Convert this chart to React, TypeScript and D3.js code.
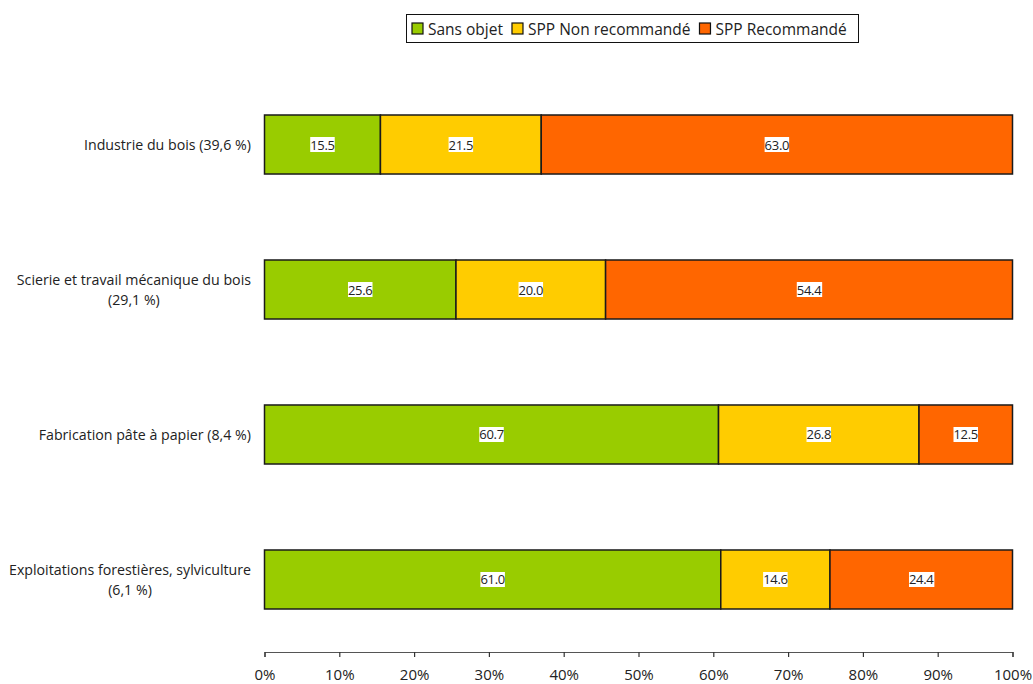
import React, { useEffect, useRef } from "react";
import * as d3 from "d3";

const categories = [
  ["Industrie du bois (39,6 %)"],
  ["Scierie et travail mécanique du bois", "(29,1 %)"],
  ["Fabrication pâte à papier (8,4 %)"],
  ["Exploitations forestières, sylviculture", "(6,1 %)"],
];
const seriesNames = ["Sans objet", "SPP Non recommandé", "SPP Recommandé"];
const seriesColors = ["#99cc00", "#ffcc00", "#ff6600"];
const sansObjet = [15.5, 25.6, 60.7, 61.0];
const nonRecommande = [21.5, 20.0, 26.8, 14.6];
const recommande = [63.0, 54.4, 12.5, 24.4];
const xTicks = [0, 10, 20, 30, 40, 50, 60, 70, 80, 90, 100];

const FONT = "'Open Sans', 'Noto Sans', sans-serif";
const W = 1033;
const H = 684;

export default function App() {
  const ref = useRef<SVGSVGElement>(null);

  useEffect(() => {
    document.body.style.margin = "0";
    const svg = d3.select(ref.current!);
    svg.selectAll("*").remove();

    const keys = categories.map((_, i) => String(i));
    const x = d3.scaleLinear().domain([0, 100]).range([264.5, 1012.5]);
    const y = d3
      .scaleBand<string>()
      .domain(keys)
      .range([115, 609])
      .paddingInner(0.593)
      .paddingOuter(0);

    const rows = keys.map((k, i) => ({
      key: k,
      vals: [sansObjet[i], nonRecommande[i], recommande[i]],
    }));

    // Stacked bars
    const g = svg.append("g");
    rows.forEach((row) => {
      let acc = 0;
      row.vals.forEach((v, s) => {
        const x0 = x(acc);
        const x1 = x(acc + v);
        acc += v;
        g.append("rect")
          .attr("x", x0)
          .attr("y", y(row.key)!)
          .attr("width", x1 - x0)
          .attr("height", y.bandwidth())
          .attr("fill", seriesColors[s])
          .attr("stroke", "#1a1a1a")
          .attr("stroke-width", 1.5);
        const cx = (x0 + x1) / 2;
        const cy = y(row.key)! + y.bandwidth() / 2;
        const lg = g.append("g");
        const t = lg
          .append("text")
          .attr("x", cx)
          .attr("y", cy)
          .attr("text-anchor", "middle")
          .attr("dominant-baseline", "central")
          .attr("font-family", FONT)
          .attr("font-size", 13)
          .attr("letter-spacing", -0.3)
          .attr("fill", "#222")
          .text(v.toFixed(1));
        const bb = (t.node() as SVGTextElement).getBBox();
        lg.insert("rect", "text")
          .attr("x", bb.x)
          .attr("y", cy - 7.5)
          .attr("width", bb.width)
          .attr("height", 15)
          .attr("fill", "#fff");
      });
    });

    // Category labels: block right-aligned, lines centered within block
    categories.forEach((lines, i) => {
      const cy = y(keys[i])! + y.bandwidth() / 2;
      const tg = svg.append("g");
      const texts = lines.map((line, j) =>
        tg
          .append("text")
          .attr("font-family", FONT)
          .attr("font-size", 14.2)
          .attr("fill", "#222")
          .attr("text-anchor", "middle")
          .attr("dominant-baseline", "central")
          .attr("y", cy + (j - (lines.length - 1) / 2) * 20)
          .text(line)
      );
      const maxW = d3.max(texts, (t) => (t.node() as SVGTextElement).getComputedTextLength())!;
      texts.forEach((t) => t.attr("x", 251 - maxW / 2));
    });

    // X axis
    const axis = svg
      .append("g")
      .attr("transform", "translate(0,652)")
      .call(
        d3
          .axisBottom(x)
          .tickValues(xTicks)
          .tickSize(5)
          .tickSizeOuter(5)
          .tickFormat((d) => `${d}%`)
      );
    axis.select(".domain").attr("stroke", "#555").attr("stroke-width", 1.2);
    axis.selectAll(".tick line").attr("stroke", "#333").attr("stroke-width", 1.2);
    axis
      .selectAll(".tick text")
      .attr("font-family", FONT)
      .attr("font-size", 15)
      .attr("fill", "#222")
      .attr("dy", "1.35em");

    // Legend
    const legend = svg.append("g");
    legend
      .append("rect")
      .attr("x", 406.5)
      .attr("y", 14.5)
      .attr("width", 452)
      .attr("height", 28)
      .attr("fill", "#fff")
      .attr("stroke", "#111")
      .attr("stroke-width", 1);
    let lx = 412;
    seriesNames.forEach((name, i) => {
      legend
        .append("rect")
        .attr("x", lx)
        .attr("y", 23)
        .attr("width", 11)
        .attr("height", 11)
        .attr("fill", seriesColors[i])
        .attr("stroke", "#111")
        .attr("stroke-width", 1.2);
      const t = legend
        .append("text")
        .attr("x", lx + 16)
        .attr("y", 29)
        .attr("dominant-baseline", "central")
        .attr("font-family", FONT)
        .attr("font-size", 15.5)
        .attr("fill", "#222")
        .text(name);
      lx += 16 + (t.node() as SVGTextElement).getComputedTextLength() + 9;
    });
  }, []);

  return (
    <svg
      ref={ref}
      width={W}
      height={H}
      style={{ display: "block", background: "#fff" }}
    />
  );
}
